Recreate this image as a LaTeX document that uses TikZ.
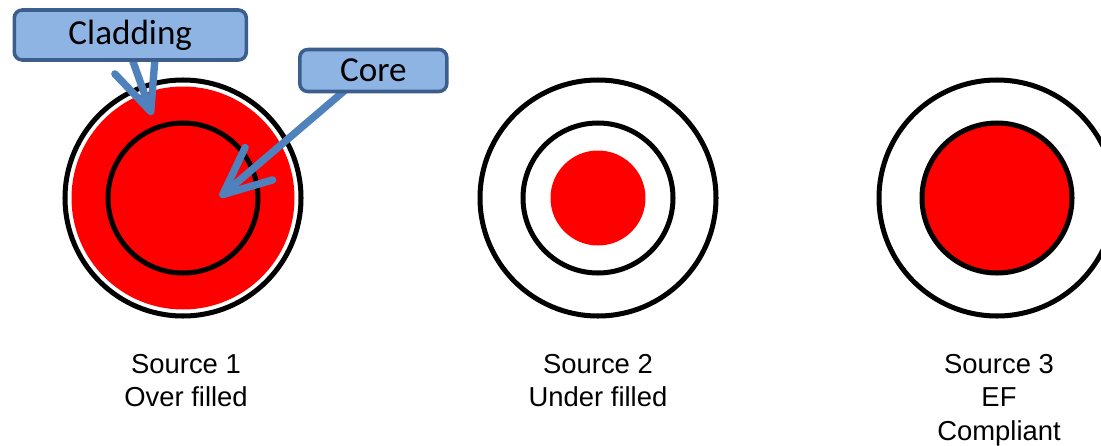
\documentclass[tikz,border=0pt]{standalone}
\usepackage{fontspec}
\setmainfont{Liberation Sans}
\newfontfamily\calloutfont{Carlito}
\usetikzlibrary{arrows.meta}
\definecolor{calloutfill}{HTML}{8EB4E3}
\definecolor{calloutedge}{HTML}{3B5E8C}
\definecolor{arrowblue}{HTML}{4F81BD}
\definecolor{fiberred}{HTML}{FF0000}
\pgfdeclarelayer{discs}
\pgfdeclarelayer{pointers}
\pgfsetlayers{discs,pointers,main}

\begin{document}
\begin{tikzpicture}[
  font=\fontsize{15.6}{19}\selectfont,
  ring/.style={draw=black, line width=2.85pt},
  callout/.style={rectangle, rounded corners=4.5pt, draw=calloutedge, line width=2pt,
                  fill=calloutfill, inner sep=0pt, font=\calloutfont\fontsize{20}{24}\selectfont},
  pointer/.style={draw=arrowblue, line width=4.2pt,
                  -{Straight Barb[length=0.95cm, width=0.85cm, round]}},
  caption/.style={align=center, anchor=base},
]
\clip (0,0) rectangle (22.02,-8.92);

\begin{pgfonlayer}{discs}
% ===== Source 1: over filled =====
\coordinate (src1) at (3.66,-3.96);
\draw[ring] (src1) circle (2.36);
\fill[fiberred] (src1) circle (2.23);
\draw[ring] (src1) circle (1.50);

% ===== Source 2: under filled =====
\coordinate (src2) at (11.96,-3.96);
\draw[ring] (src2) circle (2.36);
\draw[ring] (src2) circle (1.50);
\fill[fiberred] (src2) circle (0.95);

% ===== Source 3: EF compliant =====
\coordinate (src3) at (19.94,-3.96);
\draw[ring] (src3) circle (2.36);
\draw[ring, fill=fiberred] (src3) circle (1.50);
\end{pgfonlayer}

% captions (base = last line)
\node[caption] (cap1) at (3.72,-8.134) {Source 1\\Over filled};
\node[caption] (cap2) at (11.96,-8.134) {Source 2\\Under filled};
\node[caption] (cap3) at (19.98,-8.80) {Source 3\\EF\\Compliant};

% ===== callouts =====
\node[callout, minimum width=4.64cm, minimum height=1.0cm] (clad) at (2.606,-0.70) {Cladding};
\node[callout, minimum width=2.94cm, minimum height=0.84cm] (core) at (7.466,-1.41) {Core};
\coordinate (cladtip) at (3.04,-2.30);
\coordinate (coretip) at (4.40,-3.94);

\begin{pgfonlayer}{pointers}
\draw[pointer] ([xshift=0.02cm,yshift=0.1cm]clad.south) -- (cladtip);
\draw[pointer] ([xshift=-0.52cm,yshift=0.1cm]core.south) -- (coretip);
\end{pgfonlayer}
\end{tikzpicture}
\end{document}
